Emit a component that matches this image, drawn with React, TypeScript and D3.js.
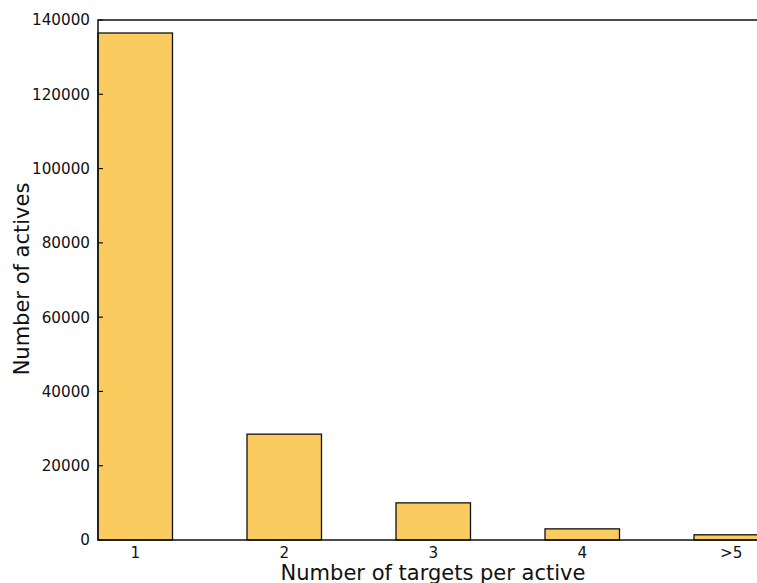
import React from "react";
import * as d3 from "d3";

const categories = ["1", "2", "3", "4", ">5"];
const counts = [136500, 28500, 10000, 3000, 1400];
const yTicks = [0, 20000, 40000, 60000, 80000, 100000, 120000, 140000];

const W = 757;
const H = 583;
const left = 98;
const top = 20;
const bottom = 540;
const unit = 149;
const barW = 0.5;

export default function App() {
  const y = d3.scaleLinear().domain([0, 140000]).range([bottom, top]);
  const x = d3.scaleLinear().domain([0, 1]).range([left, left + unit]);
  const right = x(5.5);
  const font = "DejaVu Sans, sans-serif";
  return (
    <svg width={W} height={H} style={{ position: "absolute", left: 0, top: 0, background: "#fff" }}>
      <defs>
        <clipPath id="c">
          <rect x={0} y={0} width={W} height={H} />
        </clipPath>
      </defs>
      <g clipPath="url(#c)">
        {counts.map((v, i) => (
          <rect
            key={i}
            x={x(i)}
            y={y(v)}
            width={x(i + barW) - x(i)}
            height={y(0) - y(v)}
            fill="#FACB5F"
            stroke="#111"
            strokeWidth={1.3}
          />
        ))}
        <path
          d={`M${right},${top}H${left}V${bottom}H${right}`}
          fill="none"
          stroke="#111"
          strokeWidth={1.5}
        />
        {yTicks.map((t) => (
          <g key={t}>
            <line x1={left} x2={left + 5} y1={y(t)} y2={y(t)} stroke="#111" strokeWidth={1.2} />
            <text
              x={left - 8}
              y={y(t)}
              dy="0.36em"
              textAnchor="end"
              fontFamily={font}
              fontSize={15.2}
              fill="#111"
            >
              {t}
            </text>
          </g>
        ))}
        {categories.map((c, i) => (
          <text
            key={c}
            x={x(i + barW / 2)}
            y={558}
            textAnchor="middle"
            fontFamily={font}
            fontSize={15.2}
            fill="#111"
          >
            {c}
          </text>
        ))}
        <text
          x={433}
          y={580}
          textAnchor="middle"
          fontFamily={font}
          fontSize={21}
          fill="#111"
        >
          Number of targets per active
        </text>
        <text
          transform={`translate(29,279) rotate(-90)`}
          textAnchor="middle"
          fontFamily={font}
          fontSize={21}
          fill="#111"
        >
          Number of actives
        </text>
      </g>
    </svg>
  );
}
